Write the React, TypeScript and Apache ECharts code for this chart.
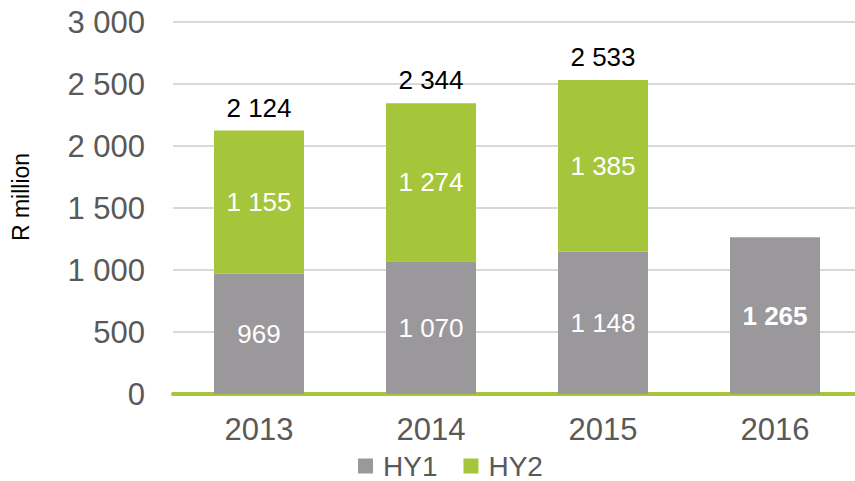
import React, { useEffect, useRef } from "react";
import * as echarts from "echarts";

const categories = ["2013", "2014", "2015", "2016"];
const hy1 = [969, 1070, 1148, 1265];
const hy2: (number | null)[] = [1155, 1274, 1385, null];
const totals: (number | null)[] = [2124, 2344, 2533, null];
const yTicks = [0, 500, 1000, 1500, 2000, 2500, 3000];

const fmt = (v: number) => String(v).replace(/\B(?=(\d{3})+(?!\d))/g, " ");

export default function App() {
  const ref = useRef<HTMLDivElement>(null);
  useEffect(() => {
    document.body.style.margin = "0";
    const chart = echarts.init(ref.current!, null, { renderer: "svg" });
    const font = "'Liberation Sans', Arial, sans-serif";
    chart.setOption({
      animation: false,
      textStyle: { fontFamily: font },
      grid: { left: 173, top: 22, bottom: 87, width: 688, containLabel: false },
      graphic: [
        {
          type: "text",
          x: 21,
          y: 197,
          rotation: Math.PI / 2,
          style: {
            text: "R million",
            fontSize: 23,
            fill: "#000",
            fontFamily: font,
            align: "center",
            verticalAlign: "middle",
          },
        },
      ],
      legend: {
        data: ["HY1", "HY2"],
        top: 452,
        left: 358,
        padding: 0,
        itemWidth: 15,
        itemHeight: 15,
        itemGap: 26,
        icon: "rect",
        textStyle: { fontSize: 28, color: "#595959", fontFamily: font, padding: [0, 0, 0, 5] },
      },
      xAxis: {
        type: "category",
        data: categories,
        axisLine: { lineStyle: { color: "#a5c63b", width: 4 } },
        axisTick: { show: false },
        axisLabel: { fontSize: 31, color: "#595959", margin: 20, fontFamily: font },
      },
      yAxis: {
        type: "value",
        min: yTicks[0],
        max: yTicks[yTicks.length - 1],
        interval: 500,
        axisLine: { show: false },
        axisTick: { show: false },
        splitLine: { lineStyle: { color: "#d9d9d9", width: 2 } },
        axisLabel: { fontSize: 31, color: "#595959", margin: 28, formatter: (v: number) => fmt(v), fontFamily: font },
      },
      series: [
        {
          name: "HY1",
          type: "bar",
          stack: "s",
          barWidth: 90,
          data: hy1.map((v, i) => ({
            value: v,
            label: i === 3 ? { fontWeight: "bold" } : undefined,
          })),
          itemStyle: { color: "#9a989b" },
          label: {
            show: true,
            position: "inside",
            color: "#fff",
            fontSize: 26,
            fontFamily: font,
            formatter: (p: any) => fmt(p.value),
          },
        },
        {
          name: "HY2",
          type: "bar",
          stack: "s",
          barWidth: 90,
          data: hy2,
          itemStyle: { color: "#a5c63b" },
          label: {
            show: true,
            position: "inside",
            color: "#fff",
            fontSize: 26,
            fontFamily: font,
            formatter: (p: any) => (p.value == null ? "" : fmt(p.value)),
          },
        },
        {
          name: "Total",
          type: "bar",
          stack: "s",
          barWidth: 90,
          data: totals.map((t) => (t == null ? null : 0)),
          itemStyle: { color: "transparent" },
          label: {
            show: true,
            position: "top",
            distance: 10,
            color: "#000",
            fontSize: 26,
            fontFamily: font,
            formatter: (p: any) => {
              const t = totals[p.dataIndex];
              return t == null ? "" : fmt(t);
            },
          },
        },
      ],
    });
    return () => chart.dispose();
  }, []);
  return (
    <div style={{ width: 855, height: 481, overflow: "hidden", position: "relative" }}>
      <div ref={ref} style={{ width: 870, height: 481 }} />
    </div>
  );
}
